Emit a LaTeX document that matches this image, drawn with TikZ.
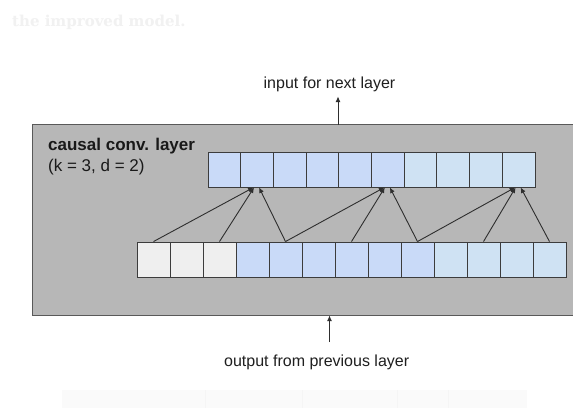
\documentclass[tikz,border=0pt]{standalone}
\usepackage{fontspec}
\setmainfont{Liberation Sans}
\newfontfamily\slabface{DejaVu Serif}
\usetikzlibrary{arrows.meta}

\definecolor{layergray}{HTML}{B7B7B7}
\definecolor{layeredge}{HTML}{595959}
\definecolor{celledge}{HTML}{3C3C3C}
\definecolor{cellblue}{HTML}{C9DAF8}
\definecolor{cellpale}{HTML}{CFE2F3}
\definecolor{cellgray}{HTML}{EFEFEF}
\definecolor{inkgray}{HTML}{2E2E2E}
\definecolor{ghost}{HTML}{F1F1F1}

\tikzset{
  layerbox/.style={draw=layeredge, fill=layergray, line width=1pt, inner sep=0pt},
  cell/.style={draw=celledge, line width=0.9pt, inner sep=0pt,
               minimum height=35pt},
  uppercell/.style={cell, minimum width=32.7pt},
  lowercell/.style={cell, minimum width=33pt},
  link/.style={draw=inkgray, line width=0.9pt,
               -{Latex[length=5.5pt,width=5pt]}},
  outer label/.style={font=\fontsize{16}{19}\selectfont, text=black!88, inner sep=0pt},
  inner label/.style={font=\fontsize{17}{20}\selectfont, text=black!90,
                      inner sep=0pt, anchor=base west},
}

\begin{document}
\begin{tikzpicture}[x=1pt,y=-1pt]
\useasboundingbox (0,0) rectangle (573,408);
\fill[white] (0,0) rectangle (573,408);

% faded caption line and faded strip
\node[font=\slabface\bfseries\fontsize{15}{18}\selectfont, text=ghost,
      anchor=base west, inner sep=0pt] (caption) at (12,26.5) {the improved model.};
\fill[black!2] (62,390) rectangle (527,408);
\foreach \gx in {205,302,397,448}
  \draw[black!4, line width=0.5pt] (\gx,390) -- (\gx,408);

% the layer container (runs past the right edge)
\node[layerbox, minimum width=550pt, minimum height=191pt]
  (layer) at (307.5,220) {};

\node[inner label, font=\bfseries\fontsize{17}{20}\selectfont]
  (title) at (48,150) {causal conv. layer};
\node[inner label] (params) at (48,171.5) {(k = 3, d = 2)};

% output row (10 cells)
\foreach \i in {1,...,10}{
  \pgfmathsetmacro{\cx}{208+16.35+(\i-1)*32.7}
  \ifnum\i<7
    \node[uppercell, fill=cellblue] (u\i) at (\cx,169.5) {};
  \else
    \node[uppercell, fill=cellpale] (u\i) at (\cx,169.5) {};
  \fi
}

% input row (13 cells: 3 padding, 6 blue, 4 pale)
\foreach \i in {1,...,13}{
  \pgfmathsetmacro{\cx}{137+16.5+(\i-1)*33}
  \ifnum\i<4
    \node[lowercell, fill=cellgray] (l\i) at (\cx,259.5) {};
  \else\ifnum\i<10
    \node[lowercell, fill=cellblue] (l\i) at (\cx,259.5) {};
  \else
    \node[lowercell, fill=cellpale] (l\i) at (\cx,259.5) {};
  \fi\fi
}

% dilated taps: inputs i-4, i-2, i feed one output
\foreach \a/\b/\c/\o in {1/3/5/2, 5/7/9/6, 9/11/13/10}{
  \draw[link] (l\a.north) -- ([xshift=-3.5pt]u\o.south);
  \draw[link] (l\b.north) -- ([xshift=-3pt]u\o.south);
  \draw[link] (l\c.north) -- ([xshift=2pt]u\o.south);
}

% external connections
\node[outer label, anchor=base] (nextlbl) at (329.5,88) {input for next layer};
\coordinate (upfoot) at (338,124.5);
\coordinate (uptip) at (338,96.5);
\draw[link] (upfoot) -- (uptip);

\node[outer label, anchor=base west] (prevlbl) at (224,366) {output from previous layer};
\coordinate (infoot) at (329.5,342);
\coordinate (intip) at (329.5,315.5);
\draw[link] (infoot) -- (intip);
\end{tikzpicture}
\end{document}
